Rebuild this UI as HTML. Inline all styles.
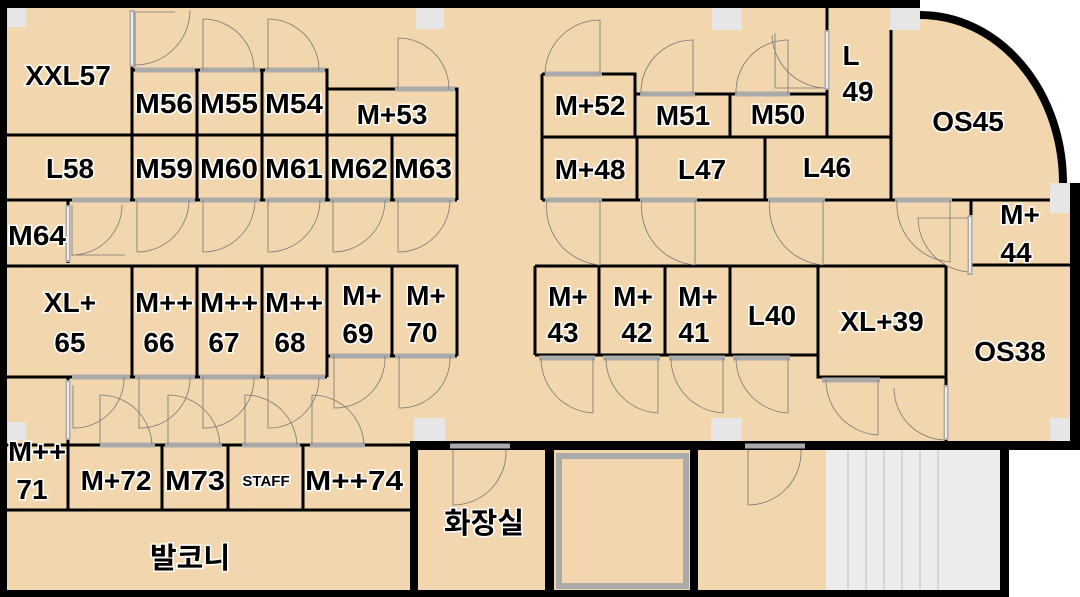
<!DOCTYPE html>
<html><head><meta charset="utf-8"><style>
html,body{margin:0;padding:0;background:#fff;}
svg{display:block;}
text{font-family:"Liberation Sans","Noto Sans CJK KR",sans-serif;font-weight:bold;fill:#000;stroke:#fff;stroke-width:3;paint-order:stroke;text-anchor:middle;}
.r{fill:none;stroke:#000;stroke-width:3;}
.d{fill:none;stroke:#777;stroke-width:0.8;}
.g{stroke:#aaa;stroke-width:5;}
.gi{stroke:#eee;stroke-width:2;}
.p{fill:#e6e6e6;}
</style></head><body>
<svg width="1080" height="597" viewBox="0 0 1080 597" xmlns="http://www.w3.org/2000/svg">
<path d="M0 0 H920 V15 A143 168 0 0 1 1063 183 H1080 V447 H1005 V597 H0 Z" fill="#f2d7ae"/>
<rect x="826" y="450" width="175" height="140" fill="#ececec"/>
<g stroke="#ccc" stroke-width="1.5"><line x1="848" y1="450" x2="848" y2="590"/><line x1="866" y1="450" x2="866" y2="590"/><line x1="884" y1="450" x2="884" y2="590"/><line x1="902" y1="450" x2="902" y2="590"/><line x1="920" y1="450" x2="920" y2="590"/><line x1="938" y1="450" x2="938" y2="590"/></g>
<rect x="559" y="456" width="127" height="130" fill="#f2d7ae" stroke="#aaa" stroke-width="6"/>
<g fill="#000">
<rect x="0" y="0" width="920" height="8"/>
<rect x="0" y="0" width="7" height="597"/>
<rect x="0" y="590" width="1009" height="7"/>
<rect x="1070" y="183" width="10" height="265"/>
<rect x="410" y="441" width="670" height="9"/>
<rect x="410" y="441" width="8" height="156"/>
<rect x="545" y="441" width="9" height="156"/>
<rect x="690" y="441" width="8" height="156"/>
<rect x="1000" y="441" width="9" height="156"/>
</g>
<path d="M920 15 A143 168 0 0 1 1063 183" fill="none" stroke="#000" stroke-width="8"/>
<g class="r">
<path d="M132 67 V135 M7 135 H457 M132 70 H327 V89 H457 V200 M197 70 V200 M262 70 V200 M327 89 V200 M392 135 V200 M132 135 V200 M7 200 H457"/>
<path d="M68 200 V263"/>
<path d="M7 266 H457 V356 M132 266 V377 M197 266 V377 M262 266 V377 M327 266 V377 M392 266 V356 M327 356 H457 M7 377 H327"/>
<path d="M68 377 V510 M7 445 H410 M162 445 V510 M228 445 V510 M303 445 V510 M7 510 H410"/>
<path d="M542 74 H635 V137 M542 74 V200 M635 94 H827 M730 94 V137 M827 7 V137 M542 137 H891 M891 30 V200 M637 137 V200 M765 137 V200 M542 200 H1063"/>
<path d="M971 200 V265 M971 265 H1070"/>
<path d="M535 266 H946 M535 266 V355 M599 266 V355 M665 266 V355 M730 266 V355 M535 355 H818 M818 266 V377 H946 M946 266 V441"/>
</g>
<g class="p">
<rect x="8" y="8" width="18" height="19"/><rect x="416" y="8" width="28" height="21"/><rect x="712" y="8" width="30" height="22"/><rect x="890" y="8" width="30" height="22"/><rect x="1050" y="183" width="20" height="30"/>
<rect x="8" y="422" width="18" height="18"/><rect x="414" y="418" width="31" height="23"/><rect x="711" y="418" width="31" height="23"/><rect x="1050" y="418" width="20" height="23"/>
</g>
<g class="g">
<line x1="135" y1="70" x2="195" y2="70"/><line x1="200" y1="70" x2="260" y2="70"/><line x1="265" y1="70" x2="325" y2="70"/><line x1="395" y1="89" x2="455" y2="89"/>
<line x1="132" y1="10" x2="132" y2="67"/>
<line x1="72" y1="200" x2="130" y2="200"/><line x1="135" y1="200" x2="195" y2="200"/><line x1="200" y1="200" x2="260" y2="200"/><line x1="265" y1="200" x2="325" y2="200"/><line x1="330" y1="200" x2="390" y2="200"/><line x1="395" y1="200" x2="455" y2="200"/>
<line x1="68" y1="205" x2="68" y2="262"/>
<line x1="72" y1="377" x2="130" y2="377"/><line x1="135" y1="377" x2="195" y2="377"/><line x1="200" y1="377" x2="260" y2="377"/><line x1="265" y1="377" x2="325" y2="377"/><line x1="330" y1="356" x2="390" y2="356"/><line x1="395" y1="356" x2="455" y2="356"/>
<line x1="68" y1="380" x2="68" y2="440"/>
<line x1="100" y1="445" x2="155" y2="445"/><line x1="165" y1="445" x2="222" y2="445"/><line x1="242" y1="445" x2="300" y2="445"/><line x1="310" y1="445" x2="365" y2="445"/>
<line x1="450" y1="446" x2="510" y2="446"/><line x1="745" y1="446" x2="805" y2="446"/>
<line x1="545" y1="74" x2="602" y2="74"/><line x1="640" y1="94" x2="695" y2="94"/><line x1="735" y1="94" x2="790" y2="94"/><line x1="827" y1="30" x2="827" y2="90"/>
<line x1="545" y1="200" x2="602" y2="200"/><line x1="640" y1="200" x2="697" y2="200"/><line x1="768" y1="200" x2="825" y2="200"/><line x1="895" y1="200" x2="952" y2="200"/><line x1="970" y1="215" x2="970" y2="275"/>
<line x1="539" y1="358" x2="595" y2="358"/><line x1="603" y1="358" x2="660" y2="358"/><line x1="669" y1="358" x2="725" y2="358"/><line x1="733" y1="358" x2="790" y2="358"/><line x1="822" y1="380" x2="880" y2="380"/><line x1="946" y1="385" x2="946" y2="440"/>
</g>
<g class="d">
<path d="M135 67 V12 H175 M135 65 A55 55 0 0 0 190 10"/>
<path d="M203 70 V19 A51 51 0 0 1 254 70"/><path d="M268 70 V19 A51 51 0 0 1 319 70"/><path d="M398 89 V38 A51 51 0 0 1 449 89"/>
<path d="M72 205 V255 H125 M72 255 A50 50 0 0 0 122 205"/>
<path d="M137 200 V252 A52 52 0 0 0 189 200"/><path d="M203 200 V252 A52 52 0 0 0 255 200"/><path d="M268 200 V252 A52 52 0 0 0 320 200"/><path d="M333 200 V252 A52 52 0 0 0 385 200"/><path d="M398 200 V252 A52 52 0 0 0 450 200"/>
<path d="M73 385 V428 A50 50 0 0 0 124 377"/><path d="M139 377 V428 A50 50 0 0 0 190 377"/><path d="M203 377 V428 A50 50 0 0 0 254 377"/><path d="M268 377 V428 A50 50 0 0 0 319 377"/><path d="M334 356 V408 A50 50 0 0 0 385 356"/><path d="M399 356 V408 A50 50 0 0 0 450 356"/>
<path d="M100 445 V395 A52 52 0 0 1 152 445"/><path d="M168 445 V395 A52 52 0 0 1 220 445"/><path d="M245 445 V395 A52 52 0 0 1 297 445"/><path d="M312 445 V395 A52 52 0 0 1 364 445"/>
<path d="M453 450 V505 A53 53 0 0 0 506 450"/><path d="M748 450 V505 A53 53 0 0 0 801 450"/>
<path d="M600 74 V20 A55 55 0 0 0 545 74"/><path d="M693 94 V40 A52 52 0 0 0 641 94"/><path d="M788 94 V40 A52 52 0 0 0 736 94"/><path d="M825 88 H775 V33 M825 88 A55 55 0 0 1 772 35"/>
<path d="M600 200 V265 A58 58 0 0 1 547 200"/><path d="M695 200 V265 A58 58 0 0 1 642 200"/><path d="M823 200 V265 A58 58 0 0 1 770 200"/><path d="M950 200 V262 A58 58 0 0 1 897 200"/><path d="M968 272 A55 55 0 0 1 918 218 H968"/>
<path d="M593 358 V413 A55 55 0 0 1 541 358"/><path d="M658 358 V413 A55 55 0 0 1 606 358"/><path d="M723 358 V413 A55 55 0 0 1 671 358"/><path d="M788 358 V413 A55 55 0 0 1 736 358"/><path d="M878 380 V435 A55 55 0 0 1 826 380"/><path d="M944 440 A52 52 0 0 1 894 388"/>
</g>
<g class="gi">
<line x1="132" y1="12" x2="132" y2="65"/><line x1="68" y1="207" x2="68" y2="260"/><line x1="68" y1="382" x2="68" y2="438"/><line x1="827" y1="32" x2="827" y2="88"/><line x1="970" y1="217" x2="970" y2="273"/><line x1="946" y1="387" x2="946" y2="438"/>
</g>
<g font-size="28">
<text x="68" y="85">XXL57</text>
<text x="164" y="113" textLength="58" lengthAdjust="spacingAndGlyphs">M56</text><text x="229" y="113" textLength="58" lengthAdjust="spacingAndGlyphs">M55</text><text x="294" y="113" textLength="58" lengthAdjust="spacingAndGlyphs">M54</text><text x="392" y="124">M+53</text>
<text x="70" y="178">L58</text><text x="164" y="178" textLength="58" lengthAdjust="spacingAndGlyphs">M59</text><text x="229" y="178" textLength="58" lengthAdjust="spacingAndGlyphs">M60</text><text x="294" y="178" textLength="58" lengthAdjust="spacingAndGlyphs">M61</text><text x="359" y="178" textLength="58" lengthAdjust="spacingAndGlyphs">M62</text><text x="423" y="178" textLength="58" lengthAdjust="spacingAndGlyphs">M63</text>
<text x="37" y="245" textLength="58" lengthAdjust="spacingAndGlyphs">M64</text>
<text x="70" y="312">XL+</text><text x="70" y="352">65</text>
<text x="164" y="312" textLength="58" lengthAdjust="spacingAndGlyphs">M++</text><text x="159" y="352">66</text>
<text x="229" y="312" textLength="58" lengthAdjust="spacingAndGlyphs">M++</text><text x="224" y="352">67</text>
<text x="294" y="312" textLength="58" lengthAdjust="spacingAndGlyphs">M++</text><text x="290" y="352">68</text>
<text x="362" y="305">M+</text><text x="358" y="343">69</text>
<text x="426" y="305">M+</text><text x="422" y="342">70</text>
<text x="37" y="461" textLength="58" lengthAdjust="spacingAndGlyphs">M++</text><text x="32" y="499">71</text>
<text x="116" y="490">M+72</text><text x="195" y="490" textLength="60" lengthAdjust="spacingAndGlyphs">M73</text><text x="354" y="490" textLength="98" lengthAdjust="spacingAndGlyphs">M++74</text>
<text x="266" y="486" font-size="15">STAFF</text>
<text x="190" y="568" font-size="29">발코니</text>
<text x="484" y="533" font-size="29">화장실</text>
<text x="590" y="115">M+52</text><text x="683" y="125">M51</text><text x="778" y="124">M50</text>
<text x="851" y="65">L</text><text x="858" y="101">49</text>
<text x="968" y="131">OS45</text>
<text x="590" y="179">M+48</text><text x="702" y="179">L47</text><text x="827" y="177">L46</text>
<text x="1020" y="224">M+</text><text x="1016" y="262">44</text>
<text x="568" y="306">M+</text><text x="563" y="342">43</text>
<text x="633" y="306">M+</text><text x="637" y="342">42</text>
<text x="698" y="306">M+</text><text x="694" y="342">41</text>
<text x="772" y="325">L40</text><text x="882" y="331">XL+39</text><text x="1010" y="361">OS38</text>
</g>
</svg>
</body></html>
